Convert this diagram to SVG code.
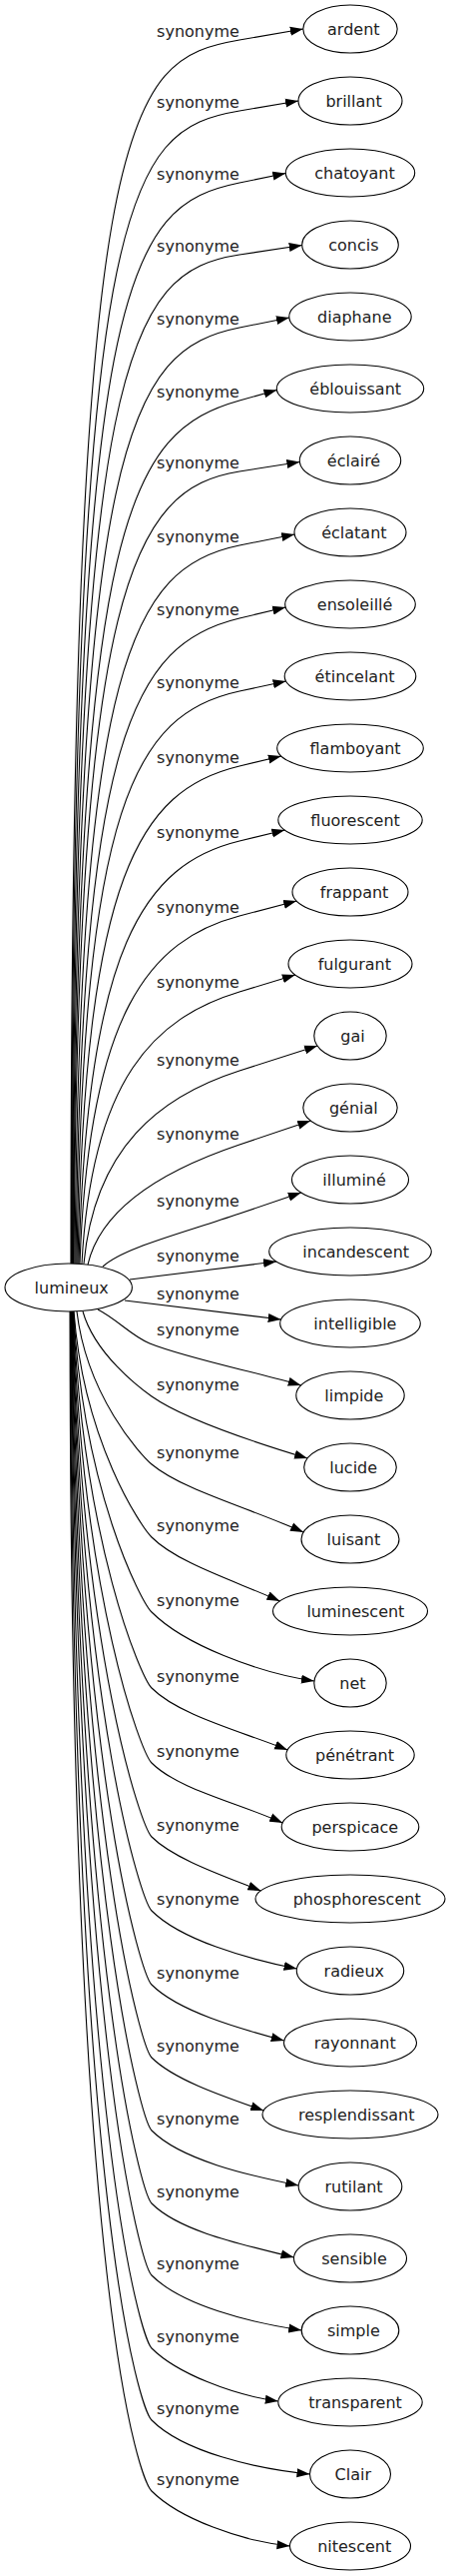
<svg xmlns="http://www.w3.org/2000/svg" width="452" height="2579" viewBox="0 0 452 2579">
<style>
.n ellipse{fill:none;stroke:#000;stroke-width:1.1}
text{font-family:"DejaVu Sans","Noto Sans",sans-serif;font-size:16px;fill:#222;text-anchor:middle}
#edges path{fill:none;stroke:#000;stroke-width:1.1;marker-end:url(#arr)}
</style>
<defs>
<marker id="arr" viewBox="0 -5 14 10" refX="13" refY="0" markerWidth="14" markerHeight="10" markerUnits="userSpaceOnUse" orient="auto"><path d="M0,-4.5L13,0L0,4.5z" fill="#000"/></marker>
</defs>
<rect width="452" height="2579" fill="#fff"/>
<g id="edges">
<path d="M71,1265 C71,101 125,60 240,40 L303.8,29"/>
<path d="M71.5,1265 C72.2,188.3 126.1,130.2 240,111 L299,101"/>
<path d="M72,1265 C73.4,273 127.2,206.1 240,183 L286.3,173.5"/>
<path d="M72.5,1265 C74.6,356 128.3,272 240,255 L302.7,245.5"/>
<path d="M73,1265 C75.8,437.6 129.4,350.1 240,328 L289.9,318"/>
<path d="M73.5,1265 C77,516 130.5,431.8 240,401 L277.4,390.5"/>
<path d="M74,1265 C78.2,591 131.6,489 240,472 L300.4,462.5"/>
<path d="M75,1265 C79.9,666 132.7,567.4 240,546 L295.2,535"/>
<path d="M76,1265 C81.6,737.2 133.8,644.3 240,619 L286.2,608"/>
<path d="M77,1265 C83.3,806.6 134.9,714.6 240,692 L286.6,682"/>
<path d="M78,1265 C85,876.6 140,790.9 240,767 L281.9,757"/>
<path d="M79,1265 C87,948 145,865 240,842 L285.4,831"/>
<path d="M80,1265 C89,1014.4 150,940.6 240,917 L297.2,902"/>
<path d="M82,1265 C92,1080 155,1018.8 240,993 L295.9,976"/>
<path d="M84,1265 C95,1149.2 160,1097.6 240,1072 L318.1,1047"/>
<path d="M88,1266 C102,1206 170,1169.6 240,1146 L311.3,1122"/>
<path d="M103,1268 C123,1249.5 180,1235.4 240,1215 L301.8,1194"/>
<path d="M130,1281 L277,1263"/>
<path d="M125,1302 L281.7,1321"/>
<path d="M98,1311 C118,1321.2 131.5,1337.5 150,1345 C188,1360.2 256.7,1373.5 301.7,1387"/>
<path d="M83,1313 C95,1355.5 139.7,1389.4 152,1398 C183.2,1419.9 253.5,1443.6 308.1,1460"/>
<path d="M77,1313 C87,1397.2 140.5,1456.4 152,1466 C182.4,1491.5 250.9,1510.1 304.1,1534"/>
<path d="M74,1313 C84,1444.1 141.4,1528.4 152,1539 C177.7,1564.7 235.5,1582.8 280.5,1603"/>
<path d="M73.7,1313 C83.7,1493.6 141.4,1603.4 152,1614 C184.6,1646.6 257.9,1674.5 314.9,1683"/>
<path d="M73.4,1313 C83.4,1546.7 141.4,1679.4 152,1690 C179.2,1717.2 240.5,1732.9 288.2,1752"/>
<path d="M73.1,1313 C83.1,1602.3 141.4,1754.4 152,1765 C178.2,1791.2 237.3,1804.3 283.2,1825"/>
<path d="M72.8,1313 C82.8,1660.2 141.4,1828.4 152,1839 C173.9,1860.9 223.1,1877.7 261.4,1893"/>
<path d="M72.5,1313 C82.5,1721 141.4,1902.4 152,1913 C181.1,1942.1 246.6,1960.8 297.5,1971"/>
<path d="M72.2,1313 C82.2,1784.8 141.4,1976.4 152,1987 C178.5,2013.5 238.3,2030.5 284.7,2043"/>
<path d="M71.9,1313 C80.9,1843.4 141.4,2049.4 152,2060 C174.4,2082.4 224.9,2099.2 264.2,2113"/>
<path d="M71.6,1313 C79.6,1903.4 141.4,2122.4 152,2133 C181.4,2162.4 247.7,2177.7 299.2,2188"/>
<path d="M71.3,1313 C78.3,1973.8 141.4,2195.4 152,2206 C180.5,2234.5 244.6,2247.5 294.5,2260"/>
<path d="M71,1313 C77,2046.4 141.4,2267.4 152,2278 C182,2308 249.6,2325.1 302.2,2333"/>
<path d="M70.7,1313 C74.7,2133 141.4,2340.4 152,2351 C177.4,2376.4 234.4,2398.2 278.8,2404"/>
<path d="M70.4,1313 C72.4,2223.2 141.4,2412.4 152,2423 C183.7,2454.7 255,2471.5 310.5,2477"/>
<path d="M70.1,1313 C70.1,2316.9 141.4,2483.4 152,2494 C179.7,2521.7 242,2544.2 290.5,2549"/>
<text x="198.5" y="37">synonyme</text>
<text x="198.5" y="108">synonyme</text>
<text x="198.5" y="180">synonyme</text>
<text x="198.5" y="252">synonyme</text>
<text x="198.5" y="325">synonyme</text>
<text x="198.5" y="398">synonyme</text>
<text x="198.5" y="469">synonyme</text>
<text x="198.5" y="543">synonyme</text>
<text x="198.5" y="616">synonyme</text>
<text x="198.5" y="689">synonyme</text>
<text x="198.5" y="764">synonyme</text>
<text x="198.5" y="839">synonyme</text>
<text x="198.5" y="914">synonyme</text>
<text x="198.5" y="989">synonyme</text>
<text x="198.5" y="1067">synonyme</text>
<text x="198.5" y="1141">synonyme</text>
<text x="198.5" y="1208">synonyme</text>
<text x="198.5" y="1263">synonyme</text>
<text x="198.5" y="1301">synonyme</text>
<text x="198.5" y="1337">synonyme</text>
<text x="198.5" y="1392">synonyme</text>
<text x="198.5" y="1460">synonyme</text>
<text x="198.5" y="1533">synonyme</text>
<text x="198.5" y="1608">synonyme</text>
<text x="198.5" y="1684">synonyme</text>
<text x="198.5" y="1759">synonyme</text>
<text x="198.5" y="1833">synonyme</text>
<text x="198.5" y="1907">synonyme</text>
<text x="198.5" y="1981">synonyme</text>
<text x="198.5" y="2054">synonyme</text>
<text x="198.5" y="2127">synonyme</text>
<text x="198.5" y="2200">synonyme</text>
<text x="198.5" y="2272">synonyme</text>
<text x="198.5" y="2345">synonyme</text>
<text x="198.5" y="2417">synonyme</text>
<text x="198.5" y="2488">synonyme</text>
</g>
<g id="lumineux" class="n"><ellipse cx="68.7" cy="1289" rx="63.7" ry="24"/><text x="71.7" y="1294.5">lumineux</text></g>
<g id="ardent" class="n"><ellipse cx="351" cy="29" rx="47.2" ry="24"/><text x="354.3" y="34.5">ardent</text></g>
<g id="brillant" class="n"><ellipse cx="351" cy="101" rx="52" ry="24"/><text x="354.6" y="106.5">brillant</text></g>
<g id="chatoyant" class="n"><ellipse cx="351" cy="173" rx="64.7" ry="24"/><text x="355.5" y="178.5">chatoyant</text></g>
<g id="concis" class="n"><ellipse cx="351" cy="245" rx="48.3" ry="24"/><text x="354.4" y="250.5">concis</text></g>
<g id="diaphane" class="n"><ellipse cx="351" cy="317" rx="61.2" ry="24"/><text x="355.3" y="322.5">diaphane</text></g>
<g id="eblouissant" class="n"><ellipse cx="351" cy="389" rx="73.7" ry="24"/><text x="356.2" y="394.5">éblouissant</text></g>
<g id="eclaire" class="n"><ellipse cx="351" cy="461" rx="50.7" ry="24"/><text x="354.5" y="466.5">éclairé</text></g>
<g id="eclatant" class="n"><ellipse cx="351" cy="533" rx="56" ry="24"/><text x="354.9" y="538.5">éclatant</text></g>
<g id="ensoleille" class="n"><ellipse cx="351" cy="605" rx="65.3" ry="24"/><text x="355.6" y="610.5">ensoleillé</text></g>
<g id="etincelant" class="n"><ellipse cx="351" cy="677" rx="65.8" ry="24"/><text x="355.6" y="682.5">étincelant</text></g>
<g id="flamboyant" class="n"><ellipse cx="351" cy="749" rx="73.3" ry="24"/><text x="356.1" y="754.5">flamboyant</text></g>
<g id="fluorescent" class="n"><ellipse cx="351" cy="821" rx="72.2" ry="24"/><text x="356.1" y="826.5">fluorescent</text></g>
<g id="frappant" class="n"><ellipse cx="351" cy="893" rx="58" ry="24"/><text x="355.1" y="898.5">frappant</text></g>
<g id="fulgurant" class="n"><ellipse cx="351" cy="965" rx="62" ry="24"/><text x="355.3" y="970.5">fulgurant</text></g>
<g id="gai" class="n"><ellipse cx="351" cy="1037" rx="36.2" ry="24"/><text x="353.5" y="1042.5">gai</text></g>
<g id="genial" class="n"><ellipse cx="351" cy="1109" rx="47.2" ry="24"/><text x="354.3" y="1114.5">génial</text></g>
<g id="illumine" class="n"><ellipse cx="351" cy="1181" rx="58.5" ry="24"/><text x="355.1" y="1186.5">illuminé</text></g>
<g id="incandescent" class="n"><ellipse cx="351" cy="1253" rx="81.3" ry="24"/><text x="356.7" y="1258.5">incandescent</text></g>
<g id="intelligible" class="n"><ellipse cx="351" cy="1325" rx="70.3" ry="24"/><text x="355.9" y="1330.5">intelligible</text></g>
<g id="limpide" class="n"><ellipse cx="351" cy="1397" rx="54.2" ry="24"/><text x="354.8" y="1402.5">limpide</text></g>
<g id="lucide" class="n"><ellipse cx="351" cy="1469" rx="46.3" ry="24"/><text x="354.2" y="1474.5">lucide</text></g>
<g id="luisant" class="n"><ellipse cx="351" cy="1541" rx="49" ry="24"/><text x="354.4" y="1546.5">luisant</text></g>
<g id="luminescent" class="n"><ellipse cx="351" cy="1613" rx="77.5" ry="24"/><text x="356.4" y="1618.5">luminescent</text></g>
<g id="net" class="n"><ellipse cx="351" cy="1685" rx="36.2" ry="24"/><text x="353.5" y="1690.5">net</text></g>
<g id="penetrant" class="n"><ellipse cx="351" cy="1757" rx="64.2" ry="24"/><text x="355.5" y="1762.5">pénétrant</text></g>
<g id="perspicace" class="n"><ellipse cx="351" cy="1829" rx="68.8" ry="24"/><text x="355.8" y="1834.5">perspicace</text></g>
<g id="phosphorescent" class="n"><ellipse cx="351" cy="1901" rx="95" ry="24"/><text x="357.7" y="1906.5">phosphorescent</text></g>
<g id="radieux" class="n"><ellipse cx="351" cy="1973" rx="53.7" ry="24"/><text x="354.8" y="1978.5">radieux</text></g>
<g id="rayonnant" class="n"><ellipse cx="351" cy="2045" rx="66.5" ry="24"/><text x="355.7" y="2050.5">rayonnant</text></g>
<g id="resplendissant" class="n"><ellipse cx="351" cy="2117" rx="88" ry="24"/><text x="357.2" y="2122.5">resplendissant</text></g>
<g id="rutilant" class="n"><ellipse cx="351" cy="2189" rx="51.8" ry="24"/><text x="354.6" y="2194.5">rutilant</text></g>
<g id="sensible" class="n"><ellipse cx="351" cy="2261" rx="56.5" ry="24"/><text x="355" y="2266.5">sensible</text></g>
<g id="simple" class="n"><ellipse cx="351" cy="2333" rx="48.8" ry="24"/><text x="354.4" y="2338.5">simple</text></g>
<g id="transparent" class="n"><ellipse cx="351" cy="2405" rx="72.2" ry="24"/><text x="356.1" y="2410.5">transparent</text></g>
<g id="Clair" class="n"><ellipse cx="351" cy="2477" rx="40.5" ry="24"/><text x="353.8" y="2482.5">Clair</text></g>
<g id="nitescent" class="n"><ellipse cx="351" cy="2549" rx="60.5" ry="24"/><text x="355.2" y="2554.5">nitescent</text></g>
</svg>
